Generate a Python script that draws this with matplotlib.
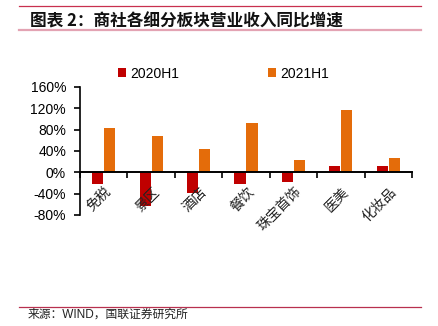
import matplotlib.pyplot as plt
import numpy as np

plt.rcParams['font.family'] = ['Liberation Sans', 'Noto Sans CJK SC', 'DejaVu Sans']

categorias = ['免税', '景区', '酒店', '餐饮', '珠宝首饰', '医美', '化妆品']
h1_2020 = [-21, -63, -38, -22, -18, 12, 11]
h1_2021 = [83, 68, 43, 92, 24, 116, 26]
yticks = [-80, -40, 0, 40, 80, 120, 160]

vermelho = '#C00000'
laranja = '#E46C0A'

fig = plt.figure(figsize=(4.38, 3.26), dpi=100)
W, H = 438, 326

# linhas do cabecalho e rodape
fig.add_artist(plt.Line2D([19 / W, 421 / W], [1 - 6 / H, 1 - 6 / H], color='#C8304F', lw=0.9))
fig.add_artist(plt.Line2D([19 / W, 421 / W], [1 - 29.5 / H, 1 - 29.5 / H], color='#E3A3B3', lw=1.6))
fig.add_artist(plt.Line2D([19 / W, 421 / W], [1 - 307 / H, 1 - 307 / H], color='#B8304F', lw=0.9))

fig.text(30 / W, 1 - 22 / H, '图表 2：商社各细分板块营业收入同比增速', fontsize=12,
         fontweight='bold', family=['Noto Sans CJK SC'], va='center', ha='left', color='#111111')
fig.text(28 / W, 1 - 315 / H, '来源：WIND，国联证券研究所', fontsize=8.5,
         family=['Liberation Sans', 'Noto Sans CJK SC'], va='center', ha='left', color='#222222')

ax = fig.add_axes([80 / W, 1 - 215 / H, 332 / W, 128 / H])

x = np.arange(len(categorias))
larg = 0.235
ax.bar(x - larg / 2 - 0.01, h1_2020, width=larg, color=vermelho, label='2020H1')
ax.bar(x + larg / 2 + 0.01, h1_2021, width=larg, color=laranja, label='2021H1')

ax.set_xlim(-0.5, len(categorias) - 0.5)
ax.set_ylim(-80, 160)
ax.set_yticks(yticks)
ax.set_yticklabels([f'{v}%' for v in yticks], fontsize=10)

ax.spines['top'].set_visible(False)
ax.spines['right'].set_visible(False)
ax.spines['bottom'].set_position(('data', 0))
ax.spines['bottom'].set_linewidth(1.4)
ax.spines['left'].set_linewidth(1.2)

# ticks do eixo x nas fronteiras das categorias
ax.set_xticks(np.arange(len(categorias) + 1) - 0.5)
ax.set_xticklabels([])
ax.tick_params(axis='x', direction='out', length=4, width=1.2)
ax.tick_params(axis='y', direction='out', length=4, width=1.2, pad=6)

for i, nome in enumerate(categorias):
    ax.text(i + 0.02, -23, nome, rotation=45, ha='right', va='top', rotation_mode='anchor',
            fontsize=10, family=['Noto Sans CJK SC'], color='#222222')

fig.legend(loc='upper left', bbox_to_anchor=(112 / W, 1 - 61 / H), ncol=2, frameon=False,
           fontsize=10, handlelength=0.6, handleheight=0.6, handletextpad=0.3, columnspacing=6.4,
           borderaxespad=0)

plt.savefig('out.png', dpi=100)
